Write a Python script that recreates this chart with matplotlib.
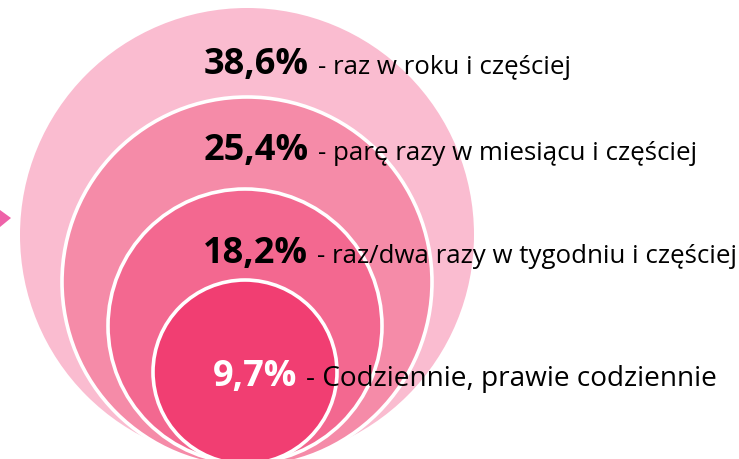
import matplotlib
matplotlib.use("Agg")
import matplotlib.pyplot as plt
from matplotlib.patches import Circle, Polygon

# Data
values = [38.6, 25.4, 18.2, 9.7]
labels = ["raz w roku i częściej",
          "parę razy w miesiącu i częściej",
          "raz/dwa razy w tygodniu i częściej",
          "Codziennie, prawie codziennie"]

# Layout / style (pixel coordinates)
W, H = 739, 460
centers = [(247, 236), (247, 283), (245, 327), (245, 373)]
radii = [227, 185, 137, 92]
colors = ["#FABCD0", "#F58BA8", "#F36890", "#F13E72"]
text_x = [204, 204, 203, 213]
text_y = [74, 160, 263, 386]
label_sizes = [18.6, 18.6, 18.6, 20.2]
pct_colors = ["black", "black", "black", "white"]
FONT = ["Open Sans", "DejaVu Sans"]

fig = plt.figure(figsize=(W / 100, H / 100), dpi=100)
ax = fig.add_axes([0, 0, 1, 1])
ax.set_xlim(0, W)
ax.set_ylim(H, 0)
ax.set_aspect("equal")
ax.axis("off")

# little arrow on the left
ax.add_patch(Polygon([[0, 211], [11, 219], [0, 228]], closed=True,
                     facecolor="#EE62A8", edgecolor="none", zorder=1))

for i, (c, r, col) in enumerate(zip(centers, radii, colors)):
    ax.add_patch(Circle(c, r, facecolor=col,
                        edgecolor="white" if i > 0 else "none",
                        linewidth=2.6, zorder=2 + i))

fig.canvas.draw()
renderer = fig.canvas.get_renderer()
for i, (v, lab) in enumerate(zip(values, labels)):
    pct = f"{v:.1f}%".replace(".", ",")
    t = ax.text(text_x[i], text_y[i], pct, fontsize=26, fontweight="bold",
                color=pct_colors[i], ha="left", va="baseline",
                family=FONT, zorder=10)
    bb = t.get_window_extent(renderer=renderer)
    x_end = ax.transData.inverted().transform((bb.x1, bb.y0))[0]
    ax.text(x_end + 9, text_y[i], "- " + lab, fontsize=label_sizes[i],
            color="black", ha="left", va="baseline", family=FONT, zorder=10)

fig.savefig("out.png", dpi=100)
